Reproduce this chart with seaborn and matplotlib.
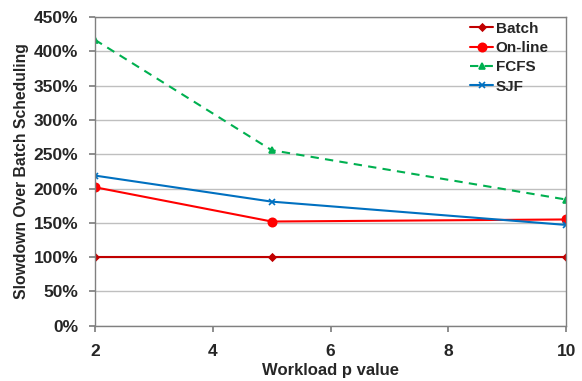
import matplotlib
matplotlib.use('Agg')

import pandas as pd
import matplotlib.pyplot as plt
import seaborn as sns
from matplotlib.ticker import FuncFormatter

# data
p_values = [2, 5, 10]
batch = [100, 100, 100]
online = [202, 152, 155]
fcfs = [417, 256, 184]
sjf = [219, 181, 147]

series = ['Batch', 'On-line', 'FCFS', 'SJF']
df = pd.DataFrame({
    'p': p_values * 4,
    'slowdown': batch + online + fcfs + sjf,
    'policy': [s for s in series for _ in p_values],
})

sns.set_theme(style='white')
plt.rcParams['font.family'] = ['Liberation Sans', 'DejaVu Sans']
plt.rcParams['font.weight'] = 'bold'

colors = {'Batch': '#C00000', 'On-line': '#FF0000', 'FCFS': '#00B050', 'SJF': '#0070C0'}
markers = {'Batch': 'D', 'On-line': 'o', 'FCFS': '^', 'SJF': 'x'}
msize = {'Batch': 3.5, 'On-line': 6, 'FCFS': 5, 'SJF': 5}
dashes = {'Batch': '', 'On-line': '', 'FCFS': (4, 3), 'SJF': ''}

fig = plt.figure(figsize=(5.82, 3.81), dpi=100)
ax = fig.add_axes([0.163, 0.145, 0.81, 0.81])

for name in series:
    sub = df[df['policy'] == name]
    sns.lineplot(data=sub, x='p', y='slowdown', ax=ax, color=colors[name],
                 marker=markers[name], markersize=msize[name], linewidth=1.5,
                 markeredgecolor=colors[name], markeredgewidth=1.2, label=name)
    if dashes[name]:
        ax.lines[-1].set_dashes(dashes[name])

ax.set_xlim(2, 10)
ax.set_ylim(0, 450)
ax.set_xticks([2, 4, 6, 8, 10])
ax.set_yticks(range(0, 451, 50))
ax.yaxis.set_major_formatter(FuncFormatter(lambda v, _: f'{int(v)}%'))
ax.yaxis.grid(True, color='#BFBFBF', linewidth=1)
ax.xaxis.grid(False)
for sp in ax.spines.values():
    sp.set_color('#808080')
    sp.set_linewidth(1)
ax.tick_params(axis='both', which='major', length=4, color='#808080',
               direction='out', labelsize=12.5, bottom=True, left=True)
ax.tick_params(axis='x', pad=9)
ax.tick_params(axis='y', pad=8)
for lab in ax.get_xticklabels() + ax.get_yticklabels():
    lab.set_fontweight('bold')

ax.set_xlabel('Workload p value', fontsize=12, fontweight='bold', labelpad=3)
ax.set_ylabel('Slowdown Over Batch Scheduling', fontsize=11.3, fontweight='bold',
              labelpad=3)

leg = ax.legend(loc='upper right', bbox_to_anchor=(0.985, 1.02), frameon=False,
                fontsize=11, handlelength=1.5, handletextpad=0.15,
                labelspacing=0.35, borderaxespad=0.3)
for t in leg.get_texts():
    t.set_fontweight('bold')

fig.savefig('out.png', dpi=100)
